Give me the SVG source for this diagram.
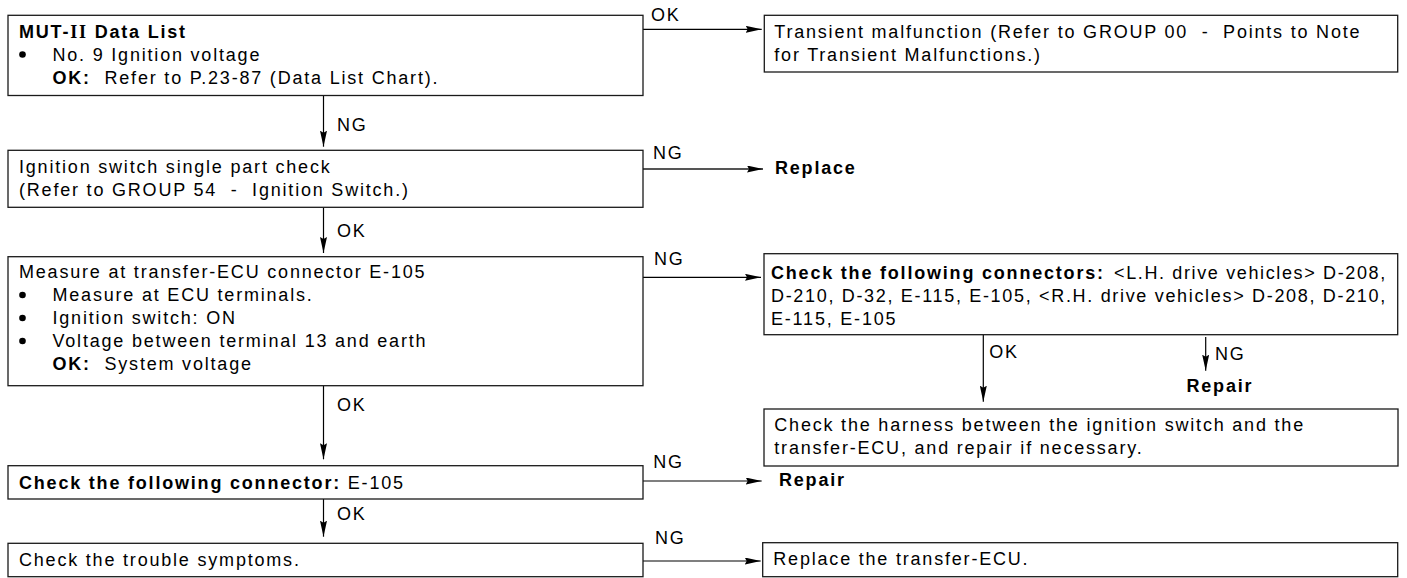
<svg xmlns="http://www.w3.org/2000/svg" width="1407" height="578" viewBox="0 0 1407 578">
<style>
.t{font-family:"Liberation Sans",Arial,sans-serif;font-size:18px;letter-spacing:1.8px;fill:#000}
.b{font-weight:bold}
.box{fill:#fff;stroke:#1a1a1a;stroke-width:1.3}
.c{stroke:#000;stroke-width:1.2;fill:none}
.dot{fill:#000}
</style>
<defs>
<marker id="ah" viewBox="0 0 16 7" refX="16" refY="3.5" markerWidth="16" markerHeight="7" markerUnits="userSpaceOnUse" orient="auto">
<path d="M0,0 L16,3.5 L0,7 L2,3.5 z" fill="#000"/>
</marker>
</defs>
<rect width="1407" height="578" fill="#fff"/>

<g id="connectors">
<line class="c" x1="643" y1="29.3" x2="761.7" y2="29.3" marker-end="url(#ah)"/>
<line class="c" x1="643" y1="169" x2="763" y2="169" marker-end="url(#ah)" style="stroke:#555;stroke-width:1.8"/>
<line class="c" x1="643" y1="277.3" x2="761" y2="277.3" marker-end="url(#ah)"/>
<line class="c" x1="643" y1="481" x2="761.7" y2="481" marker-end="url(#ah)"/>
<line class="c" x1="643" y1="561" x2="760.7" y2="561" marker-end="url(#ah)"/>
<line class="c" x1="323.5" y1="95.5" x2="323.5" y2="146.7" marker-end="url(#ah)"/>
<line class="c" x1="323.5" y1="207.3" x2="323.5" y2="253" marker-end="url(#ah)"/>
<line class="c" x1="323.5" y1="385.7" x2="323.5" y2="459.3" marker-end="url(#ah)"/>
<line class="c" x1="323.5" y1="499" x2="323.5" y2="536.7" marker-end="url(#ah)"/>
<line class="c" x1="983.3" y1="334.7" x2="983.3" y2="401.7" marker-end="url(#ah)"/>
<line class="c" x1="1205.7" y1="337" x2="1205.7" y2="370.7" marker-end="url(#ah)"/>
<text class="t" x="651" y="20.5">OK</text>
<text class="t" x="653" y="159.3">NG</text>
<text class="t" x="654" y="265">NG</text>
<text class="t" x="653.3" y="468.3">NG</text>
<text class="t" x="655" y="544">NG</text>
<text class="t" x="337" y="130.5">NG</text>
<text class="t" x="337" y="237.3">OK</text>
<text class="t" x="337" y="411">OK</text>
<text class="t" x="337" y="520">OK</text>
<text class="t" x="989.3" y="358">OK</text>
<text class="t" x="1215" y="359.5">NG</text>
</g>

<g id="n1">
<rect class="box" x="8" y="15.3" width="635" height="80.2"/>
<text class="t b" x="19" y="37.5">MUT-<tspan font-family="Liberation Serif,serif">II</tspan> Data List</text>
<circle class="dot" cx="22.5" cy="54.5" r="3.3"/>
<text class="t" x="52.5" y="60.5">No. 9 Ignition voltage</text>
<text class="t" x="52.5" y="83.5" xml:space="preserve"><tspan class="b">OK:</tspan>  Refer to P.23-87 (Data List Chart).</text>
</g>

<g id="n2">
<rect class="box" x="764.3" y="15.3" width="633.4" height="56.7"/>
<text class="t" x="774.3" y="37.5" xml:space="preserve" textLength="587" lengthAdjust="spacing">Transient malfunction (Refer to GROUP 00  -  Points to Note</text>
<text class="t" x="774.3" y="60.5">for Transient Malfunctions.)</text>
</g>

<g id="n3">
<rect class="box" x="8" y="150.3" width="635" height="57"/>
<text class="t" x="19" y="173">Ignition switch single part check</text>
<text class="t" x="19" y="196" xml:space="preserve">(Refer to GROUP 54  -  Ignition Switch.)</text>
</g>

<g id="n4">
<text class="t b" x="775" y="173.5">Replace</text>
</g>

<g id="n5">
<rect class="box" x="8" y="256.7" width="635" height="129"/>
<text class="t" x="19" y="278">Measure at transfer-ECU connector E-105</text>
<circle class="dot" cx="22.5" cy="295" r="3.3"/>
<text class="t" x="52.5" y="301">Measure at ECU terminals.</text>
<circle class="dot" cx="22.5" cy="318" r="3.3"/>
<text class="t" x="52.5" y="324">Ignition switch: ON</text>
<circle class="dot" cx="22.5" cy="341" r="3.3"/>
<text class="t" x="52.5" y="347">Voltage between terminal 13 and earth</text>
<text class="t" x="52.5" y="370" xml:space="preserve"><tspan class="b">OK:</tspan>  System voltage</text>
</g>

<g id="n6">
<rect class="box" x="764" y="253.7" width="633.7" height="81"/>
<text class="t b" x="771" y="279">Check the following connectors:</text>
<text class="t" x="1114" y="279" textLength="273" lengthAdjust="spacing">&lt;L.H. drive vehicles&gt; D-208,</text>
<text class="t" x="771" y="302" textLength="616" lengthAdjust="spacing">D-210, D-32, E-115, E-105, &lt;R.H. drive vehicles&gt; D-208, D-210,</text>
<text class="t" x="771" y="325">E-115, E-105</text>
</g>

<g id="n7">
<text class="t b" x="1186.5" y="392">Repair</text>
</g>

<g id="n8">
<rect class="box" x="764" y="409" width="634" height="57"/>
<text class="t" x="774.3" y="431">Check the harness between the ignition switch and the</text>
<text class="t" x="774.3" y="454">transfer-ECU, and repair if necessary.</text>
</g>

<g id="n9">
<rect class="box" x="8" y="465.7" width="635" height="33.3"/>
<text class="t" x="19" y="488.5" xml:space="preserve"><tspan class="b">Check the following connector:</tspan> E-105</text>
</g>

<g id="n10">
<text class="t b" x="779" y="486">Repair</text>
</g>

<g id="n11">
<rect class="box" x="8" y="543.3" width="635" height="33.4"/>
<text class="t" x="19" y="566">Check the trouble symptoms.</text>
</g>

<g id="n12">
<rect class="box" x="762.7" y="542.7" width="635" height="34"/>
<text class="t" x="773.3" y="565">Replace the transfer-ECU.</text>
</g>
</svg>
